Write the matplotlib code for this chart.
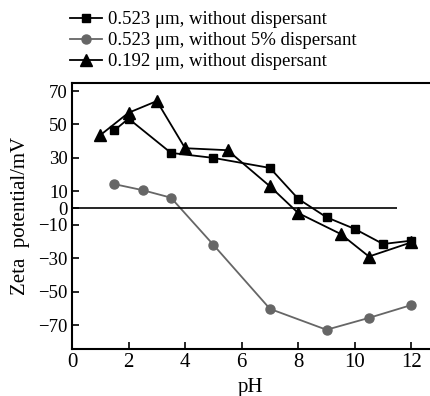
import matplotlib
matplotlib.use("Agg")
import matplotlib.pyplot as plt

plt.rcParams['font.family'] = ['Liberation Serif', 'DejaVu Serif']

# 0.523 um, without dispersant (squares)
ph_sq = [1.5, 2, 3.5, 5, 7, 8, 9, 10, 11, 12]
zeta_sq = [46.5, 53.5, 33, 30, 24, 5.5, -5.5, -12.5, -21.5, -19.5]

# 0.523 um, without 5% dispersant (circles)
ph_ci = [1.5, 2.5, 3.5, 5, 7, 9, 10.5, 12]
zeta_ci = [14.3, 10.7, 6.2, -22, -60.3, -72.8, -65.7, -58]

# 0.192 um, without dispersant (triangles)
ph_tr = [1, 2, 3, 4, 5.5, 7, 8, 9.5, 10.5, 12]
zeta_tr = [43.6, 57, 64, 35.8, 34.6, 13, -3, -15.5, -29, -20.5]

yticks = [70, 50, 30, 10, 0, -10, -30, -50, -70]
xticks = [0, 2, 4, 6, 8, 10, 12]

fig = plt.figure(figsize=(4.3, 3.96), dpi=100)
ax = fig.add_axes([0.1674, 0.1187, 0.832, 0.6717])

l1, = ax.plot(ph_sq, zeta_sq, color='black', marker='s', markersize=6, lw=1.3,
              label='0.523 μm, without dispersant')
l2, = ax.plot(ph_ci, zeta_ci, color='#666666', marker='o', markersize=6.5, lw=1.3,
              label='0.523 μm, without 5% dispersant')
l3, = ax.plot(ph_tr, zeta_tr, color='black', marker='^', markersize=8, lw=1.3,
              label='0.192 μm, without dispersant')
ax.hlines(0, 0, 11.5, color='black', lw=1.2)

ax.set_xlim(0, 12.65)
ax.set_ylim(-84.3, 74.8)
ax.set_xticks(xticks)
ax.set_yticks(yticks)
ax.set_yticklabels(['\u2212' + str(-v) if v < 0 else str(v) for v in yticks])
ax.tick_params(direction='in', length=5, width=1.2, pad=3)
ax.tick_params(axis='x', labelsize=15)
ax.tick_params(axis='y', labelsize=13.5)
ax.spines['right'].set_visible(False)
for s in ['left', 'bottom', 'top']:
    ax.spines[s].set_linewidth(1.5)

ax.set_xlabel('pH', fontsize=15, labelpad=4)
ax.set_ylabel('Zeta  potential/mV', fontsize=15, labelpad=6)

fig.legend(handles=[l1, l2, l3], loc='upper left', bbox_to_anchor=(0.137, 1.0),
           frameon=False, fontsize=13.5, handlelength=1.7, handletextpad=0.3,
           labelspacing=0.2, borderaxespad=0.2)

fig.savefig('out.png', dpi=100)
